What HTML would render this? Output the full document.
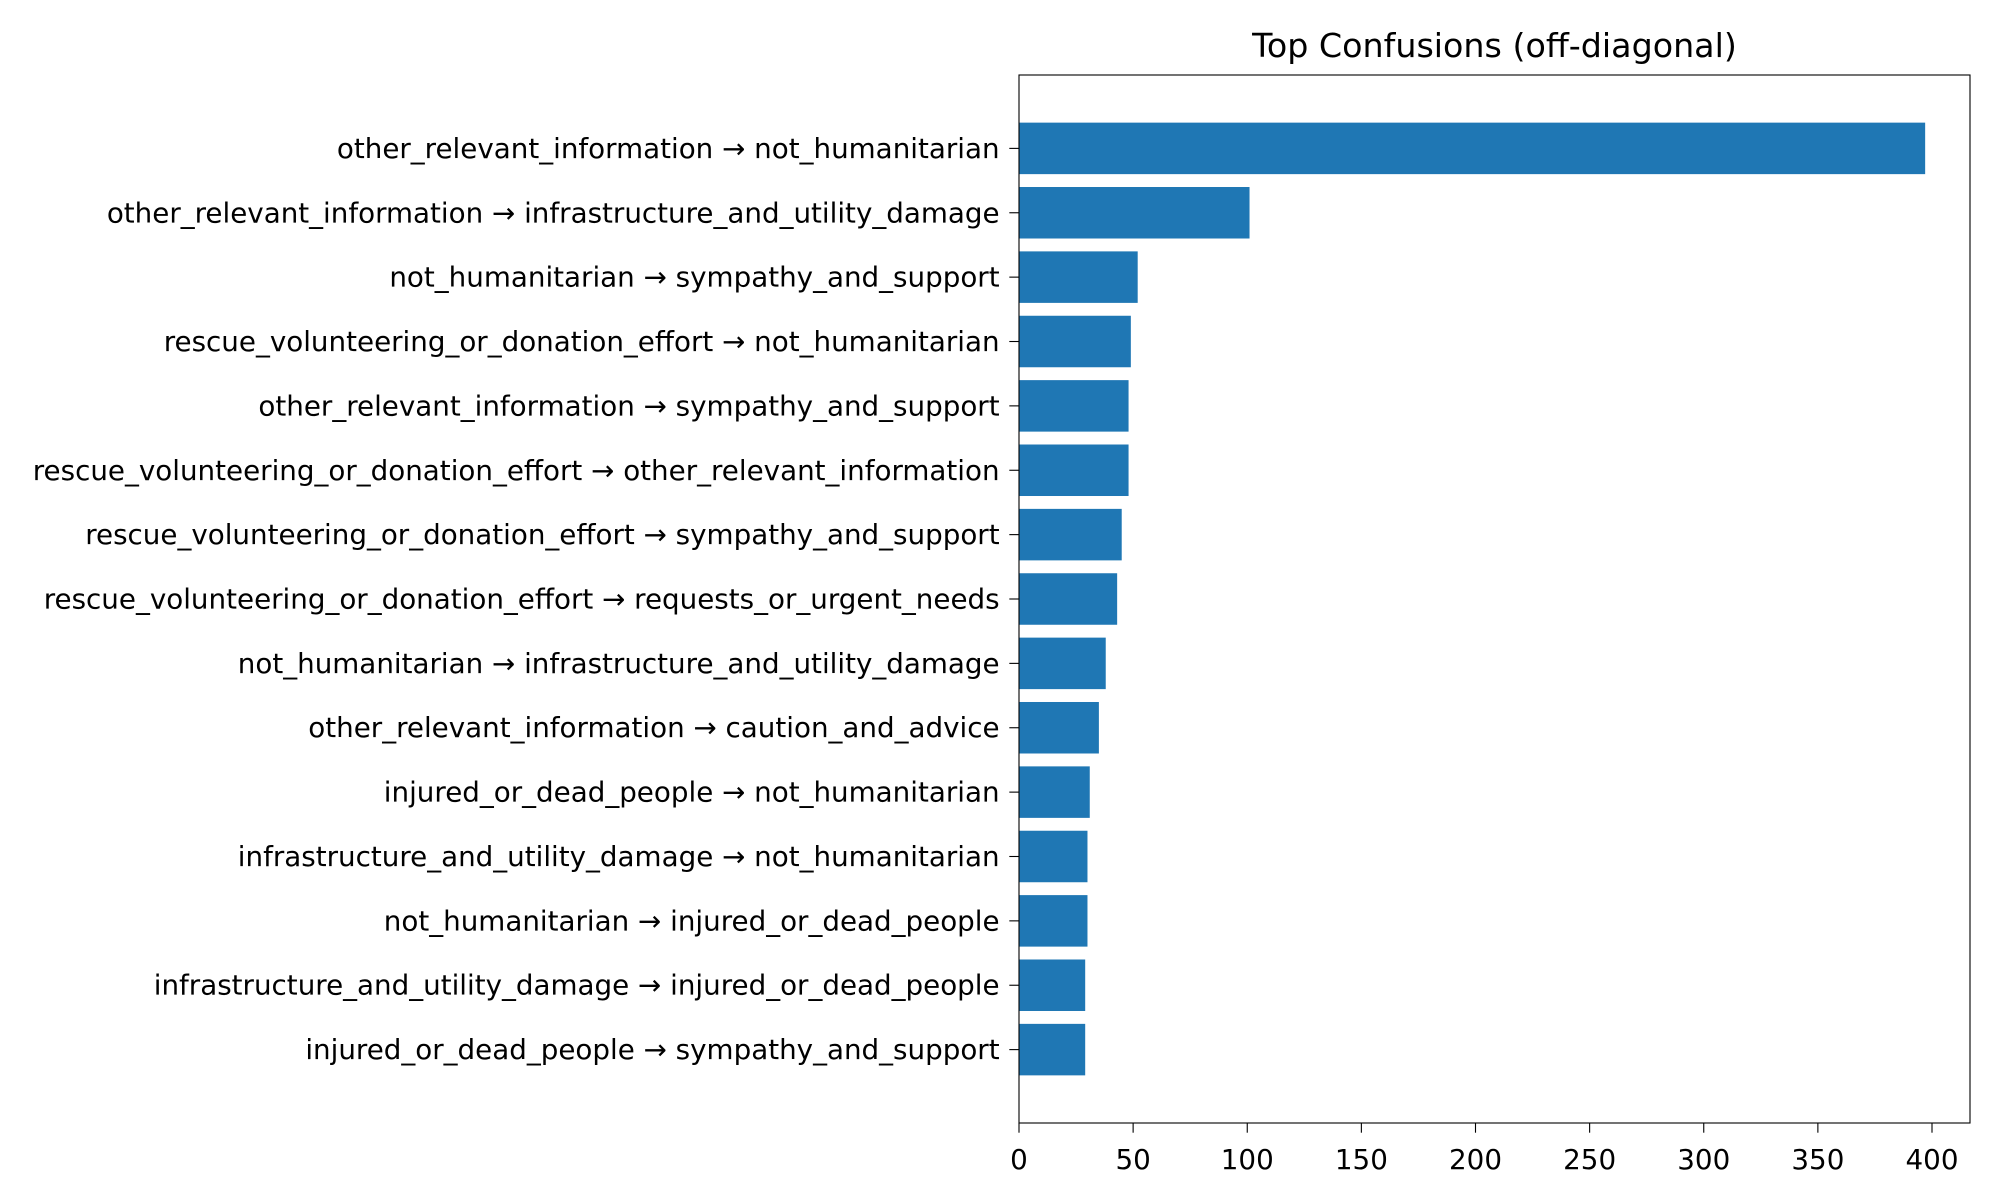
<!DOCTYPE html>
<html><head><meta charset="utf-8"><style>
html,body{margin:0;padding:0;background:#fff;}
svg{display:block;font-family:"DejaVu Sans","Liberation Sans",sans-serif;}
</style></head><body>
<svg id="chart" width="2000" height="1200" xmlns="http://www.w3.org/2000/svg"></svg>
<script>
const categories = [
"other_relevant_information → not_humanitarian",
"other_relevant_information → infrastructure_and_utility_damage",
"not_humanitarian → sympathy_and_support",
"rescue_volunteering_or_donation_effort → not_humanitarian",
"other_relevant_information → sympathy_and_support",
"rescue_volunteering_or_donation_effort → other_relevant_information",
"rescue_volunteering_or_donation_effort → sympathy_and_support",
"rescue_volunteering_or_donation_effort → requests_or_urgent_needs",
"not_humanitarian → infrastructure_and_utility_damage",
"other_relevant_information → caution_and_advice",
"injured_or_dead_people → not_humanitarian",
"infrastructure_and_utility_damage → not_humanitarian",
"not_humanitarian → injured_or_dead_people",
"infrastructure_and_utility_damage → injured_or_dead_people",
"injured_or_dead_people → sympathy_and_support"
];
const counts = [397,101,52,49,48,48,45,43,38,35,31,30,30,29,29];
const xTicks = [0,50,100,150,200,250,300,350,400];

const svg = document.getElementById('chart');
const NS = "http://www.w3.org/2000/svg";
const L=1019, R=1970, T=75, B=1123;
const xMin=0, xMax=(R-L)/2.2825;
const yMin=-1.14, yMax=categories.length-1+1.14;
function xs(v){return L+(v-xMin)/(xMax-xMin)*(R-L);}
function ys(i){return T+(i-yMin)/(yMax-yMin)*(B-T);}
const unit=(B-T)/(yMax-yMin);
function mk(tag,attrs,parent){const e=document.createElementNS(NS,tag);for(const k in attrs)e.setAttribute(k,attrs[k]);(parent||svg).appendChild(e);return e;}

const title=mk('text',{x:(L+R)/2,y:57,'text-anchor':'middle','font-size':'33.3',fill:'#000'});


title.textContent='Top Confusions (off-diagonal)';

const bars=mk('g',{});


counts.forEach((v,i)=>{
  const c=ys(i);
  const r=mk('rect',{x:xs(0),y:c-0.4*unit,width:xs(v)-xs(0),height:0.8*unit,fill:'#1f77b4'},bars);
  
  
});

const yax=mk('g',{});


categories.forEach((c,i)=>{
  const y=ys(i);
  mk('line',{x1:L-9.7,x2:L,y1:y,y2:y,stroke:'#000','stroke-width':1.1},yax);
  const t=mk('text',{x:L-19.4,y:y,'text-anchor':'end','dominant-baseline':'central','font-size':'27.75',fill:'#000'},yax);
  
  
  t.textContent=c;
});

const xax=mk('g',{});


xTicks.forEach(v=>{
  const x=xs(v);
  mk('line',{x1:x,x2:x,y1:B,y2:B+9.7,stroke:'#000','stroke-width':1.1},xax);
  const t=mk('text',{x:x,y:B+46,'text-anchor':'middle','font-size':'27.75',fill:'#000'},xax);
  
  
  t.textContent=v;
});

const frame=mk('rect',{x:L,y:T,width:R-L,height:B-T,fill:'none',stroke:'#000','stroke-width':1.1});


</script>
</body></html>
